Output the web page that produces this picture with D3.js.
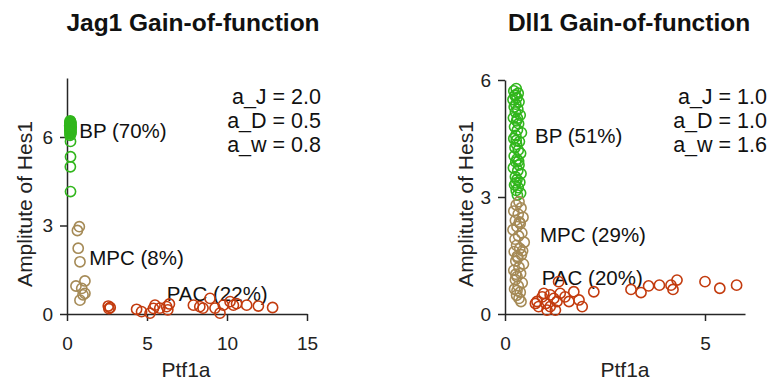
<!DOCTYPE html>
<html>
<head>
<meta charset="utf-8">
<script src="https://cdn.jsdelivr.net/npm/d3@7"></script>
<style>
  html, body { margin: 0; padding: 0; background: #fff; }
  svg { display: block; font-family: 'Liberation Sans', Arial, Helvetica, sans-serif; }
</style>
</head>
<body>
<div id="chart"></div>
<script>
// ---- data ----
const jagBP = [
  [0.20,6.55],[0.22,6.52],[0.18,6.50],[0.25,6.48],[0.21,6.46],[0.19,6.44],[0.24,6.42],[0.22,6.40],
  [0.17,6.38],[0.23,6.36],[0.20,6.35],[0.26,6.33],[0.19,6.31],[0.22,6.30],[0.18,6.28],[0.24,6.26],
  [0.21,6.25],[0.20,6.23],[0.23,6.21],[0.19,6.20],[0.22,6.18],[0.25,6.16],[0.20,6.14],[0.21,6.12],
  [0.23,6.10],[0.19,6.06],[0.22,5.85],[0.22,5.33],[0.21,4.99],[0.22,4.15]
];
const jagMPC = [
  [0.77,2.96],[0.65,2.83],[0.70,2.23],[0.81,1.77],[1.12,1.12],[0.56,0.95],[0.92,0.87],[1.00,0.65],
  [1.12,0.70],[0.81,0.47]
];
const jagPAC = [
  [2.58,0.27],[2.70,0.22],[2.62,0.18],[4.35,0.16],[4.66,0.08],[5.19,0.03],[5.40,0.19],[5.50,0.30],
  [5.80,0.20],[6.23,0.25],[6.30,0.14],[6.40,0.34],[7.90,0.30],[8.30,0.25],[8.50,0.20],[8.94,0.53],
  [9.25,0.20],[9.56,0.03],[9.77,0.30],[10.19,0.42],[10.40,0.30],[10.60,0.35],[11.23,0.30],
  [11.96,0.27],[12.85,0.22]
];

const dllBP = [
  [0.28,5.78],[0.22,5.72],[0.33,5.66],[0.25,5.60],[0.30,5.55],[0.20,5.50],[0.35,5.44],[0.27,5.38],
  [0.23,5.31],[0.32,5.25],[0.26,5.18],[0.38,5.10],[0.21,5.03],[0.29,4.95],[0.34,4.88],[0.24,4.80],
  [0.31,4.72],[0.41,4.65],[0.27,4.58],[0.22,4.50],[0.36,4.42],[0.29,4.35],[0.25,4.27],[0.33,4.20],
  [0.39,4.12],[0.23,4.05],[0.30,3.97],[0.27,3.90],[0.35,3.82],[0.21,3.75],[0.32,3.68],[0.40,3.60],
  [0.26,3.52],[0.30,3.45],[0.37,3.38],[0.24,3.31],[0.33,3.24],[0.28,3.17],[0.39,3.10],[0.31,3.05],
  [0.26,5.62],[0.31,5.02],[0.28,4.45],[0.34,3.92],[0.27,3.36]
];
const dllMPC = [
  [0.35,2.88],[0.28,2.80],[0.40,2.72],[0.22,2.64],[0.33,2.56],[0.45,2.48],[0.26,2.40],[0.38,2.32],
  [0.30,2.24],[0.20,2.16],[0.42,2.08],[0.34,2.00],[0.25,1.92],[0.48,1.84],[0.29,1.76],[0.37,1.68],
  [0.23,1.60],[0.41,1.52],[0.32,1.44],[0.27,1.36],[0.46,1.28],[0.35,1.20],[0.22,1.12],[0.39,1.04],
  [0.30,0.96],[0.26,0.88],[0.43,0.80],[0.33,0.72],[0.24,0.64],[0.38,0.56],[0.29,0.48],[0.35,0.40],
  [0.40,0.32],[0.31,1.48],[0.36,2.36],[0.27,1.02],[0.44,1.62],[0.30,0.60]
];
const dllPAC = [
  [0.80,0.32],[0.93,0.44],[1.02,0.27],[1.05,0.10],[1.13,0.19],[1.22,0.40],[1.30,0.32],[1.26,0.10],
  [1.38,0.53],[0.97,0.53],[0.84,0.19],[1.50,0.44],[1.60,0.32],[1.13,0.49],[0.76,0.27],[1.34,0.83],
  [1.72,0.57],[1.85,0.36],[1.93,0.19],[2.22,0.57],[3.15,0.63],[3.40,0.55],[3.59,0.72],[3.86,0.74],
  [4.15,0.74],[4.20,0.63],[4.30,0.87],[5.00,0.83],[5.37,0.66],[5.79,0.74]
];

const jagXTicks = [0, 5, 10, 15];
const dllXTicks = [0, 5];
const yTicks = [0, 3, 6];

const jagParams = ['a_J = 2.0', 'a_D = 0.5', 'a_w = 0.8'];
const dllParams = ['a_J = 1.0', 'a_D = 1.0', 'a_w = 1.6'];

// label anchors in data units
const jagLabels = [
  { text: 'BP (70%)', x: 0.77, y: 5.96 },
  { text: 'MPC (8%)', x: 1.39, y: 1.66 },
  { text: 'PAC (22%)', x: 6.23, y: 0.44 }
];
const dllLabels = [
  { text: 'BP (51%)', x: 0.75, y: 4.38 },
  { text: 'MPC (29%)', x: 0.875, y: 1.85 },
  { text: 'PAC (20%)', x: 0.92, y: 0.74 }
];

const COLORS = { BP: '#31b61c', MPC: '#a58a56', PAC: '#c33b0e' };
const fmt = d3.format('d');

const svg = d3.select('#chart').append('svg')
  .attr('width', 773)
  .attr('height', 381);

function drawPanel(opt) {
  const x = d3.scaleLinear().domain(opt.xDomain).range(opt.xRange);
  const y = d3.scaleLinear().domain(opt.yDomain).range([314, opt.yTop]);
  const g = svg.append('g');

  // title
  g.append('text')
    .attr('x', opt.titleX).attr('y', 31)
    .attr('text-anchor', 'middle')
    .attr('font-size', 24.5).attr('font-weight', 'bold')
    .attr('fill', '#111')
    .text(opt.title);

  // axes
  const xAxis = g.append('g')
    .attr('transform', 'translate(0,314)')
    .call(d3.axisBottom(x).tickValues(opt.xTicks).tickFormat(fmt)
      .tickSize(7).tickSizeOuter(0).tickPadding(16));
  const yAxis = g.append('g')
    .attr('transform', `translate(${opt.xRange[0]},0)`)
    .call(d3.axisLeft(y).tickValues(yTicks).tickFormat(fmt)
      .tickSize(7).tickSizeOuter(0).tickPadding(7));
  [xAxis, yAxis].forEach(a => {
    a.select('.domain').attr('stroke', '#262626').attr('stroke-width', 1.5);
    a.selectAll('.tick line').attr('stroke', '#262626').attr('stroke-width', 1.5);
    a.selectAll('.tick text').attr('font-size', 19).attr('fill', '#222')
      .attr('font-family', "'Liberation Sans', Arial, Helvetica, sans-serif");
  });

  // axis labels
  g.append('text')
    .attr('x', opt.xLabelX).attr('y', 377)
    .attr('text-anchor', 'middle')
    .attr('font-size', 21).attr('fill', '#222')
    .text('Ptf1a');
  g.append('text')
    .attr('transform', `translate(${opt.yLabelX},${opt.yLabelY}) rotate(-90)`)
    .attr('text-anchor', 'middle')
    .attr('font-size', 21).attr('fill', '#222')
    .text('Amplitute of Hes1');

  // parameter block
  g.selectAll('text.param')
    .data(opt.params)
    .join('text')
    .attr('class', 'param')
    .attr('x', opt.paramX)
    .attr('y', (d, i) => 104 + i * 24)
    .attr('text-anchor', 'end')
    .attr('font-size', 21.5).attr('fill', '#111')
    .text(d => d);

  // cluster labels
  g.selectAll('text.lab')
    .data(opt.labels)
    .join('text')
    .attr('class', 'lab')
    .attr('x', d => x(d.x))
    .attr('y', d => y(d.y))
    .attr('font-size', 20.5).attr('fill', '#111')
    .text(d => d.text);

  // points
  const series = [
    { pts: opt.bp, color: COLORS.BP },
    { pts: opt.mpc, color: COLORS.MPC },
    { pts: opt.pac, color: COLORS.PAC }
  ];
  series.forEach(s => {
    g.append('g')
      .selectAll('circle')
      .data(s.pts)
      .join('circle')
      .attr('cx', d => x(d[0]))
      .attr('cy', d => y(d[1]))
      .attr('r', 5.1)
      .attr('fill', 'none')
      .attr('stroke', s.color)
      .attr('stroke-width', 1.6);
  });
}

drawPanel({
  title: 'Jag1 Gain-of-function', titleX: 193,
  xDomain: [0, 15], xRange: [67, 307], xTicks: jagXTicks,
  yDomain: [0, 8], yTop: 78,
  xLabelX: 186, yLabelX: 32, yLabelY: 204,
  params: jagParams, paramX: 321,
  labels: jagLabels,
  bp: jagBP, mpc: jagMPC, pac: jagPAC
});

drawPanel({
  title: 'Dll1 Gain-of-function', titleX: 629,
  xDomain: [0, 6], xRange: [505, 745], xTicks: dllXTicks,
  yDomain: [0, 6], yTop: 80,
  xLabelX: 625, yLabelX: 473, yLabelY: 204,
  params: dllParams, paramX: 767,
  labels: dllLabels,
  bp: dllBP, mpc: dllMPC, pac: dllPAC
});
</script>
</body>
</html>
